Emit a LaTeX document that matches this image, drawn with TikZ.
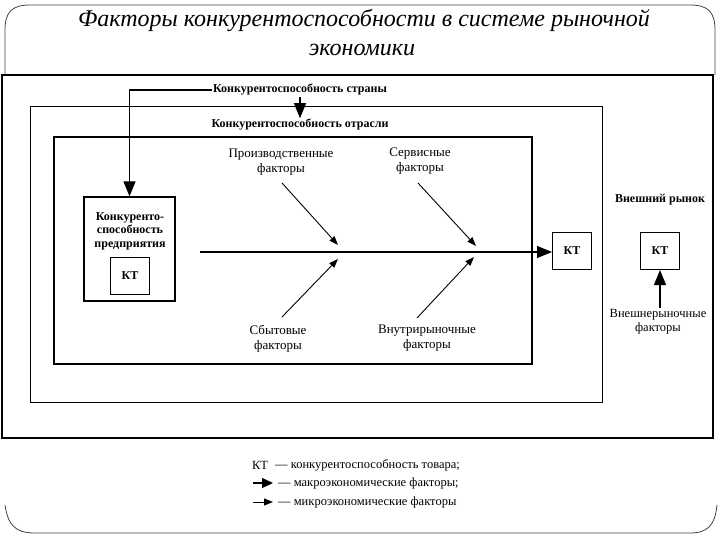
\documentclass[tikz,border=0pt]{standalone}
\usepackage{fontspec}
\setmainfont{Liberation Serif}
\usetikzlibrary{arrows.meta,calc}
\begin{document}
\begin{tikzpicture}[x=1pt,y=-1pt,
  frame/.style={draw=black!75, line width=0.8pt},
  box/.style={draw, line width=1.4pt},
  ktbox/.style={draw, line width=1pt, minimum width=39pt, minimum height=37pt, inner sep=0pt, font=\fontsize{12}{14}\selectfont\bfseries},
  macro/.style={-{Triangle[length=15pt,width=12pt]}, line width=1.2pt},
  micro/.style={-{Triangle[length=9pt,width=6.5pt]}, line width=0.9pt},
  lbl/.style={font=\fontsize{13}{15}\selectfont, align=center, inner sep=1pt},
  blbl/.style={font=\fontsize{12}{14}\selectfont\bfseries, align=center, inner sep=1pt},
  leg/.style={font=\fontsize{12.5}{14}\selectfont, inner sep=0pt, anchor=west},
  ttl/.style={font=\fontsize{24}{28}\selectfont\itshape, inner sep=0pt},
]
\useasboundingbox (0,0) rectangle (720,540);
% slide frame
\draw[frame] (5,75) -- (5,30) .. controls (5,12) and (12,5) .. (30,5) -- (690,5) .. controls (708,5) and (715,12) .. (715,30) -- (715,75);
\draw[frame] (5,505) .. controls (8,525) and (15,533) .. (35,533) -- (690,533) .. controls (708,533) and (715,525) .. (717,505);
% title
\node[ttl] (t1) at (364,21) {Факторы конкурентоспособности в системе рыночной};
\node[ttl] (t2) at (362,50) {экономики};
% nested boxes
\draw[box] (2,75) rectangle (713,438);
\draw[line width=1pt] (30,107) rectangle (602,402);
\draw[box] (54,137) rectangle (532,364);
% labels of levels
\node[blbl] (strany) at (300,90) {Конкурентоспособность страны};
\node[blbl] (otrasli) at (300,125) {Конкурентоспособность отрасли};
% enterprise box
\node[draw, line width=1.3pt, minimum width=91pt, minimum height=104pt, inner sep=0pt] (ent) at (129.5,249) {};
\node[blbl, font=\fontsize{12}{13.5}\selectfont\bfseries] (enttext) at (130,231) {Конкуренто-\\способность\\предприятия};
\node[ktbox] (kt1) at (130,276) {КТ};
% macro arrows
\draw[macro] (strany.west) -| (ent.north);
\draw[macro] (strany.south) -- (otrasli.north);
% spine
\coordinate (spine) at (200,252);
\node[ktbox] (kt2) at (572,251) {КТ};
\draw[macro] (spine) -- (spine -| kt2.west);
% factor labels
\node[lbl] (prod) at (281,162) {Производственные\\факторы};
\node[lbl] (serv) at (420,161) {Сервисные\\факторы};
\node[lbl] (sbyt) at (278,339) {Сбытовые\\факторы};
\node[lbl] (vnut) at (427,338) {Внутрирыночные\\факторы};
% micro arrows
\coordinate (p0) at (282,183); \coordinate (p1) at (338,245);
\coordinate (s0) at (418,183); \coordinate (s1) at (476,246);
\coordinate (b0) at (282,317); \coordinate (b1) at (338,259);
\coordinate (v0) at (417,318); \coordinate (v1) at (474,257);
\draw[micro] (p0) -- (p1);
\draw[micro] (s0) -- (s1);
\draw[micro] (b0) -- (b1);
\draw[micro] (v0) -- (v1);
% external market
\node[blbl] (vrynok) at (660,200) {Внешний рынок};
\node[ktbox] (kt3) at (660,251) {КТ};
\node[lbl, font=\fontsize{12.5}{14}\selectfont] (vnesh) at (658,322) {Внешнерыночные\\факторы};
\draw[macro] (kt3.south |- vnesh.north) -- (kt3.south);
% legend
\node[font=\fontsize{12.5}{14}\selectfont, inner sep=0pt] (lkt) at (260,465) {КТ};
\node[leg] (l1) at (275,465) {— конкурентоспособность товара;};
\coordinate (a0) at (253,483); \coordinate (a1) at (273,483);
\draw[-{Triangle[length=11pt,width=10pt]}, line width=1.2pt] (a0) -- (a1);
\node[leg] (l2) at (278,483) {— макроэкономические факторы;};
\coordinate (m0) at (253,502); \coordinate (m1) at (273,502);
\draw[-{Triangle[length=9pt,width=7pt]}, line width=1pt] (m0) -- (m1);
\node[leg] (l3) at (278,502) {— микроэкономические факторы};
\end{tikzpicture}
\end{document}
